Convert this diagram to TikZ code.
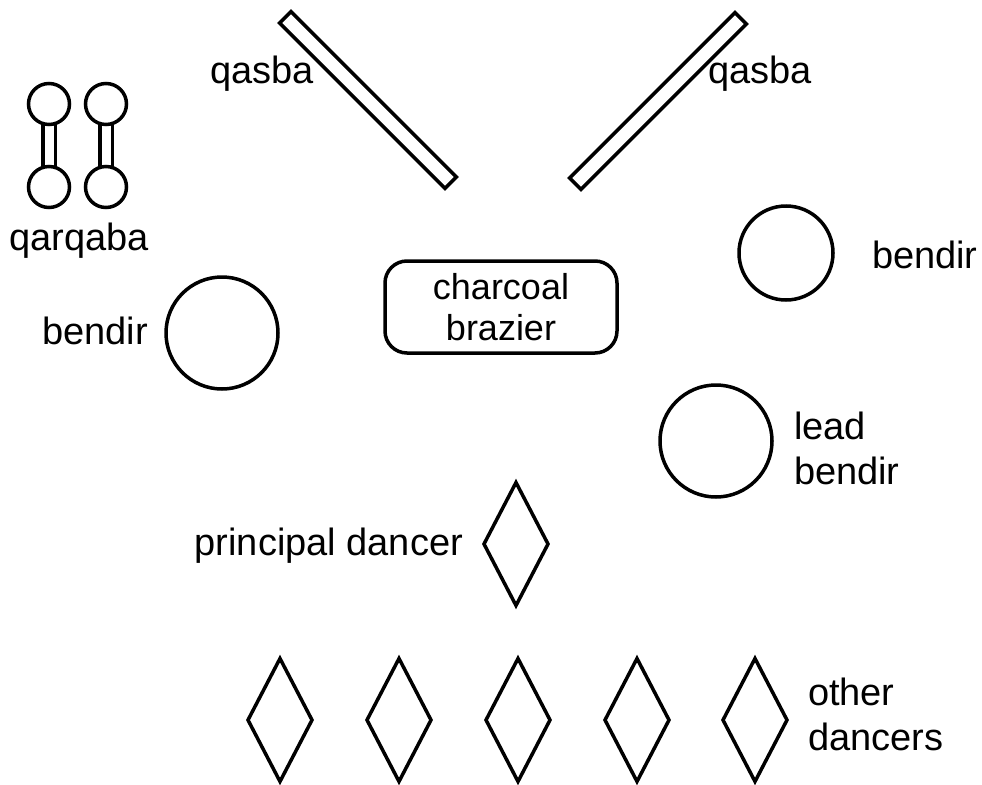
\documentclass[tikz,border=0pt]{standalone}
\usepackage{fontspec}
\setmainfont{Liberation Sans}
\usetikzlibrary{shapes.geometric}
\begin{document}
\begin{tikzpicture}[x=1pt,y=-1pt,
  every node/.style={inner sep=0pt, outer sep=0pt},
  ink/.style={draw=black, line width=3.5pt},
  lbl/.style={font=\fontsize{38}{45}\selectfont, align=left},
  drum/.style={ink, circle, minimum size=112pt},
  bell/.style={ink, circle, minimum size=41pt},
  reed/.style={ink, rectangle, minimum width=234pt, minimum height=16pt},
  dancer/.style={ink, diamond, minimum width=64pt, minimum height=123pt},
]
\useasboundingbox (0,0) rectangle (982,784);

% qarqaba (two pairs of castanets)
\node[bell] (q1t) at (49,104) {};
\node[bell] (q1b) at (49,187) {};
\node[bell] (q2t) at (106,104) {};
\node[bell] (q2b) at (106,187) {};
\draw[ink] (q1t.-72.5) -- (q1b.72.5);
\draw[ink] (q1t.-107.5) -- (q1b.107.5);
\draw[ink] (q2t.-72.5) -- (q2b.72.5);
\draw[ink] (q2t.-107.5) -- (q2b.107.5);
\node[lbl] (lq) at (79,241) {qarqaba};

% qasba (reed flutes)
\node[reed, rotate=-45] (qsL) at (368,100) {};
\node[reed, rotate=45]  (qsR) at (658,101) {};
\node[lbl, anchor=east] (lqsL) at (314,74) {qasba};
\node[lbl, anchor=west] (lqsR) at (708,74) {qasba};

% charcoal brazier
\node[ink, rectangle, rounded corners=22pt, minimum width=232pt, minimum height=92pt,
      font=\fontsize{36}{41}\selectfont, align=center] (brz) at (501,307) {charcoal\\brazier};

% bendir frame drums
\node[drum, minimum size=94pt] (bR) at (786,253) {};
\node[lbl, anchor=west] (lbR) at (872,255) {bendir};
\node[drum] (bL) at (222,333) {};
\node[lbl, anchor=east] (lbL) at (148,331) {bendir};
\node[drum] (bLead) at (716,441) {};
\node[lbl, anchor=west] (lbLead) at (794,448) {lead\\bendir};

% dancers
\node[dancer] (pd) at (516,544) {};
\node[lbl, anchor=east] (lpd) at (463,546) {principal dancer};
\node[dancer] (d1) at (280,720) {};
\node[dancer] (d2) at (399,720) {};
\node[dancer] (d3) at (518,720) {};
\node[dancer] (d4) at (637,720) {};
\node[dancer] (d5) at (755,720) {};
\node[lbl, anchor=west] (lod) at (808,714) {other\\dancers};
\end{tikzpicture}
\end{document}
